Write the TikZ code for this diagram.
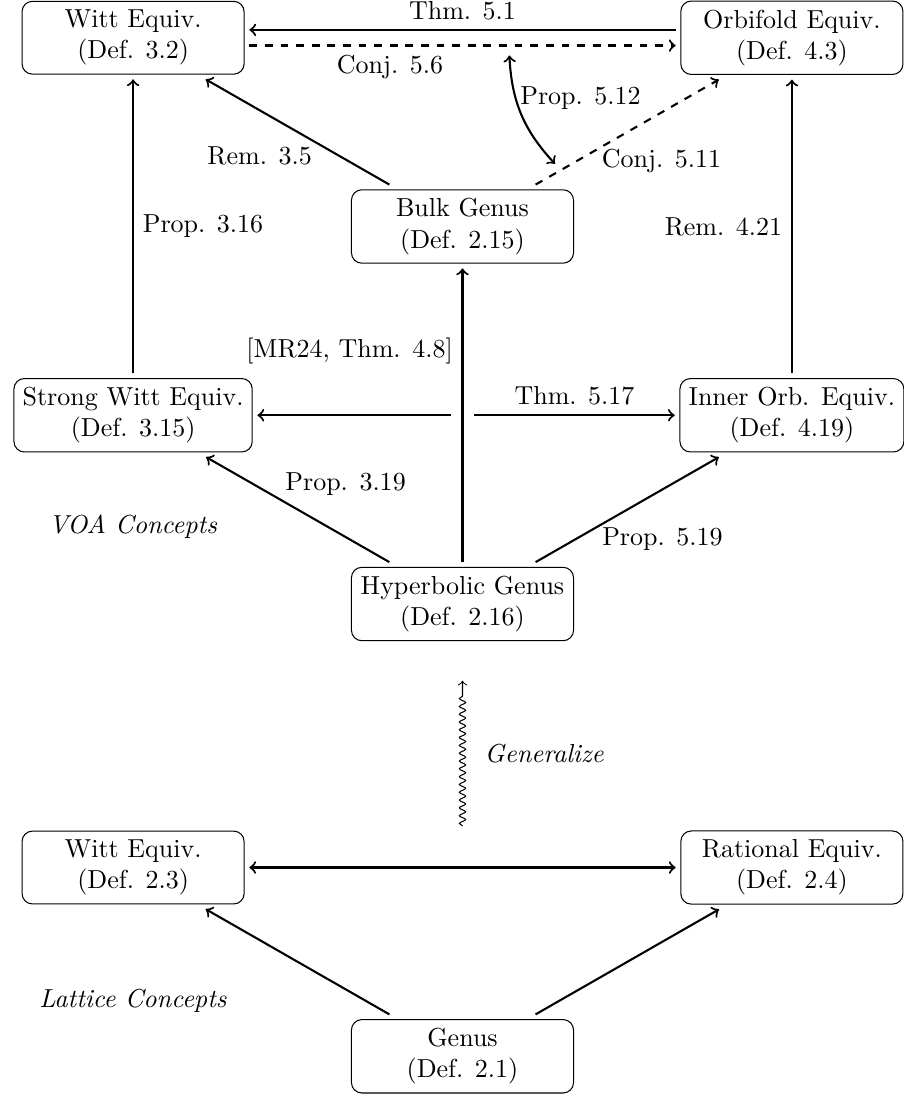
\documentclass[tikz,border=0pt]{standalone}
\usepackage{amsmath,amssymb}
\usepackage{tikz}
\usetikzlibrary{positioning, arrows, calc, decorations.pathmorphing}

\begin{document}
\begin{tikzpicture}
	[on grid, node distance=2.55cm and 4.45cm,
	 concept/.style={draw, rounded corners, align=center, minimum width=3cm, outer sep=2pt},
	 every edge/.append style={thick}]
   \useasboundingbox (-6.248,-6.66) rectangle (5.96,8.16);
   % VOA concepts
   \node[concept] (hyp) {Hyperbolic Genus\\(Def. 2.16)};
   \node[concept] (switt) [above left=of hyp] {Strong Witt Equiv.\\(Def. 3.15)};
   \node[concept] (inorb) [above right=of hyp] {Inner Orb. Equiv.\\(Def. 4.19)};
   \node[concept] (bulk) [above right=of switt] {Bulk Genus\\(Def. 2.15)};
   \node[concept] (wittv) [above left=of bulk] {Witt Equiv.\\(Def. 3.2)};
   \node[concept] (orbv) [above right=of bulk] {Orbifold Equiv.\\(Def. 4.3)};
   \node (voa) [below=1.5cm of switt] {\textit{VOA Concepts}};
   % lattice concepts
   \node[concept] (genus) [below=6.11cm of hyp] {Genus\\(Def. 2.1)};
   \node[concept] (wittl) [above left=of genus] {Witt Equiv.\\(Def. 2.3)};
   \node[concept] (rat) [above right=of genus] {Rational Equiv.\\(Def. 2.4)};
   \node (lat) [below=1.8cm of wittl] {\textit{Lattice Concepts}};
   % helper points
   \coordinate (hmid) at (switt -| hyp);
   \coordinate (hl) at ([xshift=-1.6mm]hmid);
   \coordinate (hr) at ([xshift=1.6mm]hmid);
   \coordinate (p512a) at ($(wittv.east)!0.61!(orbv.west)+(0,-0.24)$);
   \coordinate (p512b) at ($(bulk.north)+(1.25,0.28)$);
   \coordinate (gtop) at ([yshift=-4.7mm]hyp.south);
   \coordinate (gbot) at (hyp |- wittl.north);
    \path[->]
    ([yshift=3pt]orbv.west) edge node[above] {Thm. 5.1} ([yshift=3pt]wittv.east)
    ([yshift=-3pt]wittv.east) edge[dashed] node[pos=0.33, below] {Conj. 5.6} ([yshift=-3pt]orbv.west)
    (p512a) edge[<->, bend right=20] node[pos=0.35, right, xshift=-0.7mm] {Prop. 5.12} (p512b)
    (bulk) edge node[pos=0.45, below left, xshift=2mm] {Rem. 3.5} (wittv)
           edge[dashed] node[pos=0.43, below right, xshift=-3mm] {Conj. 5.11} (orbv)
    (switt) edge node[right] {Prop. 3.16} (wittv)
    (inorb) edge node[left] {Rem. 4.21} (orbv)
    (hyp) edge node[pos=0.72, left] {[MR24, Thm. 4.8]} (bulk)
          edge node[pos=0.54, above right, xshift=-2mm] {Prop. 3.19} (switt)
          edge node[pos=0.42, below right, xshift=-2.7mm] {Prop. 5.19} (inorb)
    (hl) edge (switt)
    (hr) edge node[above] {Thm. 5.17} (inorb)
    (genus) edge (wittl)
            edge (rat)
    (wittl) edge[<->] (rat);
   \draw[->, decorate, decoration={snake, amplitude=1.2pt, segment length=3pt, post length=2mm}]
     (gbot) -- node[right=5pt] {\textit{Generalize}} (gtop);
\end{tikzpicture}
\end{document}
